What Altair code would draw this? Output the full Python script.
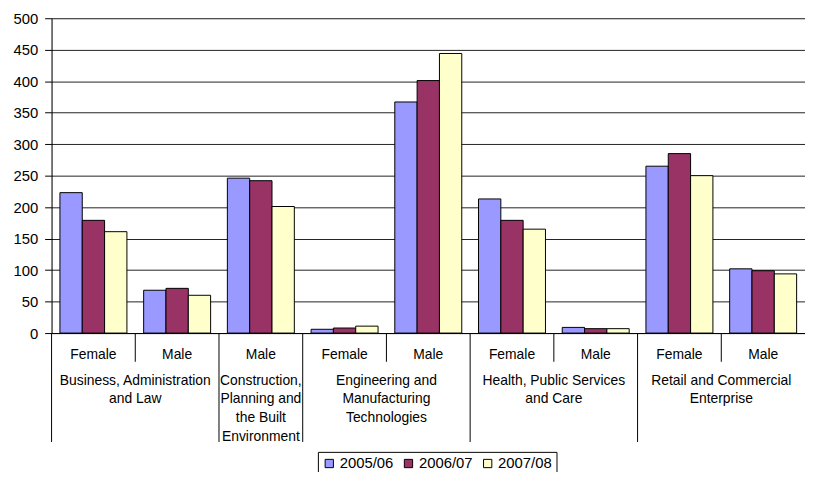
import altair as alt
import pandas as pd

# ---- data ----
sectors = [
    "Business, Administration\nand Law",
    "Business, Administration\nand Law",
    "Construction,\nPlanning and\nthe Built\nEnvironment",
    "Engineering and\nManufacturing\nTechnologies",
    "Engineering and\nManufacturing\nTechnologies",
    "Health, Public Services\nand Care",
    "Health, Public Services\nand Care",
    "Retail and Commercial\nEnterprise",
    "Retail and Commercial\nEnterprise",
]
genders = ["Female", "Male", "Male", "Female", "Male", "Female", "Male", "Female", "Male"]
years = ["2005/06", "2006/07", "2007/08"]
v_2005_06 = [223, 68, 246, 6, 367, 213, 9, 265, 102]
v_2006_07 = [179, 71, 242, 8, 401, 179, 7, 285, 99]
v_2007_08 = [161, 60, 201, 11, 444, 165, 7, 250, 94]
series = [v_2005_06, v_2006_07, v_2007_08]
y_ticks = list(range(0, 501, 50))
colors = ["#9999FF", "#993366", "#FFFFCC"]

gids = list(range(len(genders)))
bounds = list(range(len(genders) + 1))  # group boundaries (left edge of each group + right end)

bar_df = pd.DataFrame(
    [{"gid": g, "year": yr, "value": vals[g]} for yr, vals in zip(years, series) for g in gids]
)
gender_df = pd.DataFrame({"gid": gids, "gender": genders})

sector_first = [i == 0 or sectors[i] != sectors[i - 1] for i in gids]
sep_df = pd.DataFrame({"gid": gids, "first": sector_first})

# sector label rows: one-group sectors are centred on their group,
# two-group sectors on the boundary before their second group
sec_rows = []
for i in gids:
    if sector_first[i]:
        n = sum(1 for s in sectors if s == sectors[i])
        sec_rows.append({"gid": i + (n - 1), "sector": sectors[i], "n": n})
sec_df = pd.DataFrame(sec_rows)

FONT = "Liberation Sans"
FS = 14
W, H = 761, 318

flat_scale = alt.Scale(domain=gids, paddingInner=0, paddingOuter=0)
edge_scale = alt.Scale(type="point", domain=bounds, padding=0)

bars = alt.Chart(bar_df).mark_bar(stroke="#000", strokeWidth=1).encode(
    x=alt.X("gid:O", scale=alt.Scale(domain=gids, paddingInner=0.2, paddingOuter=0.1),
            axis=alt.Axis(labels=False, ticks=False, title=None, domainColor="#000", grid=False)),
    xOffset=alt.XOffset("year:N", sort=years, scale=alt.Scale(paddingInner=0, paddingOuter=0)),
    y=alt.Y("value:Q", scale=alt.Scale(domain=[0, 500], nice=False),
            axis=alt.Axis(values=y_ticks, grid=True, gridColor="#222", gridWidth=1,
                          domainColor="#000", tickColor="#000", tickSize=7,
                          labelFontSize=15, labelColor="#000", labelPadding=7,
                          labelFont=FONT, title=None)),
    color=alt.Color("year:N", sort=years, scale=alt.Scale(domain=years, range=colors),
                    legend=alt.Legend(title=None, orient="none", legendX=269, legendY=438,
                                      direction="horizontal", symbolType="square",
                                      symbolSize=70, symbolStrokeColor="#000",
                                      symbolStrokeWidth=1, labelFontSize=15, labelFont=FONT,
                                      labelColor="#000", labelOffset=3, columnPadding=7,
                                      strokeColor="#000", padding=4)),
)

short_sep = alt.Chart(sep_df).transform_filter("!datum.first").mark_rule(color="#000").encode(
    x=alt.X("gid:O", scale=edge_scale, axis=None), y=alt.value(H), y2=alt.value(H + 29),
)
long_sep = alt.Chart(sep_df).transform_filter("datum.first").mark_rule(color="#000").encode(
    x=alt.X("gid:O", scale=edge_scale, axis=None), y=alt.value(H), y2=alt.value(H + 110),
)

gender_txt = alt.Chart(gender_df).mark_text(
    font=FONT, fontSize=FS, baseline="middle", color="#000"
).encode(x=alt.X("gid:O", scale=flat_scale, axis=None), y=alt.value(H + 22), text="gender:N")

sec1 = alt.Chart(sec_df).transform_filter("datum.n == 1").mark_text(
    font=FONT, fontSize=FS, baseline="top", lineBreak="\n", lineHeight=19, color="#000"
).encode(x=alt.X("gid:O", scale=flat_scale, axis=None), y=alt.value(H + 41), text="sector:N")
sec2 = alt.Chart(sec_df).transform_filter("datum.n == 2").mark_text(
    font=FONT, fontSize=FS, baseline="top", lineBreak="\n", lineHeight=19, color="#000"
).encode(x=alt.X("gid:O", scale=edge_scale, axis=None), y=alt.value(H + 41), text="sector:N")

chart = alt.layer(bars, short_sep, long_sep, gender_txt, sec1, sec2).resolve_scale(
    x="independent"
).properties(
    width=W, height=H,
    autosize=alt.AutoSizeParams(type="none"),
    padding={"left": 44, "top": 8, "right": 0, "bottom": 138},
).configure_view(stroke=None).configure(font=FONT)

chart.save("out.html", embed_options={"renderer": "svg", "actions": False})
